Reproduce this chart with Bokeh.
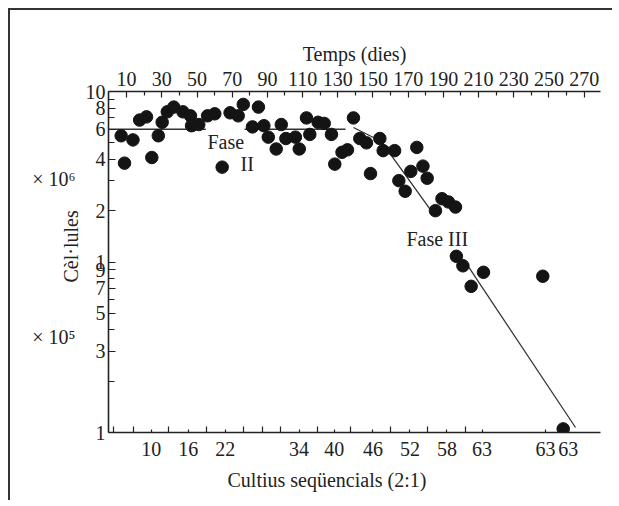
from bokeh.plotting import figure
from bokeh.models import LinearAxis, LogAxis, FixedTicker, Range1d, Label, Title
from bokeh.embed import file_html
from bokeh.resources import INLINE

# ---- data (days, cells) ----
days = [6.9, 8.8, 13.6, 17.4, 21.3, 24.3, 28.0, 30.2, 33.1, 36.8,
        42.0, 46.3, 46.9, 51.0, 56.0, 60.1, 64.3, 68.8, 73.4, 76.3,
        81.5, 84.9, 88.0, 90.5, 95.0, 97.9, 100.5, 105.9, 108.1, 112.2,
        114.1, 118.8, 122.3, 126.4, 128.3, 132.4, 135.5, 138.9, 142.5, 146.3,
        148.6, 153.9, 155.8, 162.3, 164.7, 168.3, 171.5, 174.9, 178.4, 180.8,
        185.5, 189.2, 192.9, 196.9, 197.4, 201.1, 205.8, 212.8, 246.5, 258.1]
cells = [5.5e6, 3.8e6, 5.2e6, 6.8e6, 7.1e6, 4.1e6, 5.5e6, 6.6e6, 7.6e6, 8.1e6,
         7.6e6, 7.2e6, 6.3e6, 6.4e6, 7.2e6, 7.4e6, 3.6e6, 7.5e6, 7.2e6, 8.4e6,
         6.2e6, 8.1e6, 6.3e6, 5.4e6, 4.6e6, 6.4e6, 5.3e6, 5.4e6, 4.6e6, 7.0e6,
         5.6e6, 6.6e6, 6.5e6, 5.6e6, 3.75e6, 4.4e6, 4.55e6, 7.0e6, 5.3e6, 5.0e6,
         3.3e6, 5.3e6, 4.5e6, 4.5e6, 3.0e6, 2.6e6, 3.4e6, 4.7e6, 3.65e6, 3.1e6,
         2.0e6, 2.35e6, 2.25e6, 2.1e6, 1.08e6, 9.5e5, 7.2e5, 8.7e5, 8.25e5, 1.05e5]

# fitted lines
fase2_a_days = [0, 55]
fase2_b_days = [77, 134.4]
fase2_level = [6e6, 6e6]
fase3_a_days = [138.9, 154.8, 182.7]
fase3_a_cells = [6.15e6, 5.09e6, 2.02e6]
fase3_b_days = [201.4, 265.1]
fase3_b_cells = [1.04e6, 1.07e5]

# ticks
top_ticks = [10, 30, 50, 70, 90, 110, 130, 150, 170, 190, 210, 230, 250, 270]
top_minor = [20, 40, 60, 80, 100, 120, 140, 160, 180, 200, 220, 240, 260]
bottom_tick_days = [24, 45, 66, 108, 128, 150, 171, 192, 212, 248, 261]
bottom_tick_labels = ["10", "16", "22", "34", "40", "46", "52", "58", "63", "63", "63"]
bottom_minor_days = [2.6, 13.9, 33.8, 55.4, 76.4, 87.2, 97.4, 118.5, 137.5, 159.9, 181.0, 202.6]
y_ticks = [100000, 300000, 500000, 700000, 900000, 1000000, 2000000, 4000000, 6000000, 8000000, 10000000]
y_tick_labels = ["1", "3", "5", "7", "9", "1", "2", "4", "6", "8", "10"]
y_minor = [200000, 400000, 600000, 800000, 3000000, 5000000, 7000000, 9000000]
scale_ticks = [3048000, 364100]
scale_labels = ["× 10⁶", "× 10⁵"]

FONT = "Liberation Serif"
INK = "#222222"

p = figure(width=612, height=500,
           x_range=Range1d(-0.3, 279.3), y_range=Range1d(1e5, 1e7),
           y_axis_type="log", x_axis_location=None, y_axis_location=None,
           output_backend="svg", toolbar_location=None,
           min_border_left=108, min_border_right=12,
           min_border_top=91, min_border_bottom=68)
p.grid.visible = False
p.outline_line_color = None
p.background_fill_color = "white"
p.border_fill_color = None
# thin page frame (top and left edges), drawn behind the transparent canvas
p.styles = {
    "background-color": "white",
    "background-image": "linear-gradient(#333, #333), linear-gradient(#333, #333)",
    "background-size": "100% 2px, 2px 100%",
    "background-position": "8px 8px, 8px 8px",
    "background-repeat": "no-repeat",
}


def style_axis(ax, tick_in, minor_in, standoff):
    ax.axis_line_color = INK
    ax.axis_line_width = 1.6
    ax.major_tick_line_color = INK
    ax.minor_tick_line_color = INK
    ax.major_tick_line_width = 1.2
    ax.minor_tick_line_width = 1.2
    ax.major_tick_in = tick_in
    ax.major_tick_out = 0
    ax.minor_tick_in = minor_in
    ax.minor_tick_out = 0
    ax.major_label_text_font = FONT
    ax.major_label_text_font_size = "20px"
    ax.major_label_text_color = INK
    ax.major_label_standoff = standoff


def title(text, align, offset, standoff):
    return Title(text=text, align=align, offset=offset, standoff=standoff,
                 text_font=FONT, text_font_size="20px", text_font_style="normal",
                 text_color=INK)


# left side: main log axis, then the "Cèl·lules" title, then the scale factors
left = LogAxis(ticker=FixedTicker(ticks=y_ticks, minor_ticks=y_minor),
               major_label_overrides={t: l for t, l in zip(y_ticks, y_tick_labels)})
style_axis(left, 7, 6, 3)
p.add_layout(left, "left")
p.add_layout(title("Cèl·lules", "left", 150, 2), "left")
scale_axis = LogAxis(ticker=FixedTicker(ticks=scale_ticks),
                     major_label_overrides={t: l for t, l in zip(scale_ticks, scale_labels)})
style_axis(scale_axis, 0, 0, -19)
scale_axis.axis_line_color = None
scale_axis.major_tick_line_color = None
scale_axis.minor_tick_line_color = None
p.add_layout(scale_axis, "left")

# top: days axis + title
top = LinearAxis(ticker=FixedTicker(ticks=top_ticks, minor_ticks=top_minor))
style_axis(top, 6, 4, 6)
p.add_layout(top, "above")
p.add_layout(title("Temps (dies)", "center", 0, 7), "above")

# bottom: sequential cultures axis + title
bottom = LinearAxis(ticker=FixedTicker(ticks=bottom_tick_days, minor_ticks=bottom_minor_days),
                    major_label_overrides={t: l for t, l in zip(bottom_tick_days, bottom_tick_labels)})
style_axis(bottom, 3, 6, 9)
p.add_layout(bottom, "below")
p.add_layout(title("Cultius seqüencials (2:1)", "left", 119, 16), "below")

# lines
LINE = "#333333"
p.line(fase2_a_days, fase2_level, line_color=LINE, line_width=1.5)
p.line(fase2_b_days, fase2_level, line_color=LINE, line_width=1.5)
p.line(fase3_a_days, fase3_a_cells, line_color=LINE, line_width=1.3)
p.line(fase3_b_days, fase3_b_cells, line_color=LINE, line_width=1.3)

# points
p.scatter(days, cells, size=12.5, fill_color="#141414", line_color="#141414")


def dlabel(x, y, text, align="left"):
    p.add_layout(Label(x=x, y=y, text=text, text_font=FONT, text_font_size="20px",
                       text_color=INK, text_align=align, text_baseline="alphabetic"))


dlabel(55.9, 5.09e6, "Fase")
dlabel(78.5, 3.77e6, "II", "center")
dlabel(169.0, 1.37e6, "Fase III")

open("out.html", "w").write(file_html(p, INLINE))
